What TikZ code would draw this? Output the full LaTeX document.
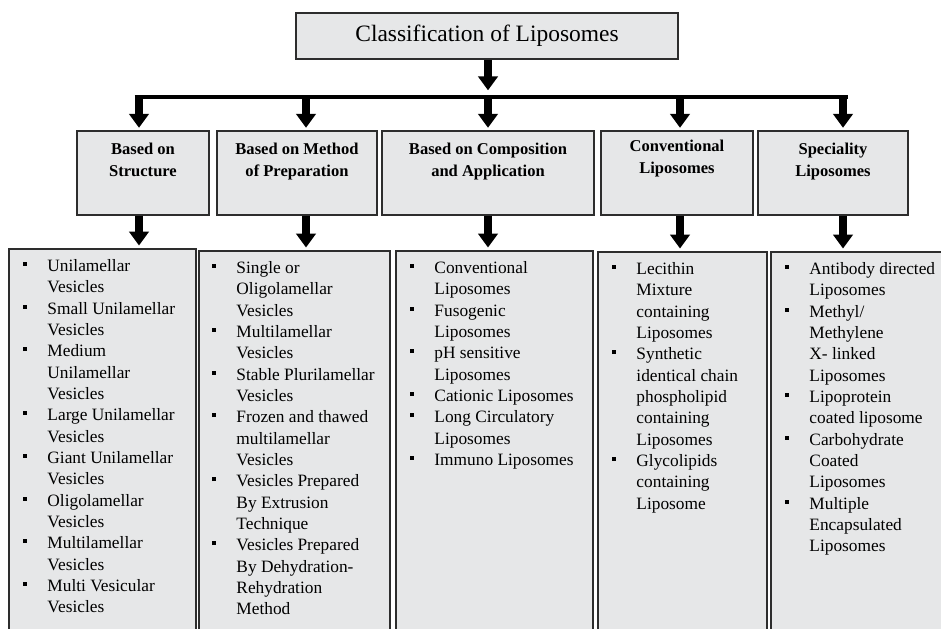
\documentclass[tikz,border=0pt]{standalone}
\usepackage{fontspec}
\setmainfont{Liberation Serif}
\usepackage{xcolor}
\usepackage{tikz}
\usetikzlibrary{arrows.meta,fit}
\definecolor{boxfill}{RGB}{230,231,232}
\definecolor{boxline}{RGB}{45,45,45}
\newcommand{\lb}{\leavevmode\llap{\raisebox{4.2pt}{\rule{3pt}{3pt}}\hspace{15pt}}}
\tikzset{
  titlebox/.style ={draw=boxline, fill=boxfill, line width=1pt, inner sep=0pt},
  catbox/.style   ={draw=boxline, fill=boxfill, line width=0.8pt, inner sep=0pt},
  listbox/.style  ={draw=boxline, fill=boxfill, line width=1.2pt, inner sep=0pt},
  titletxt/.style ={font=\fontsize{17.6}{21}\selectfont, inner sep=0pt},
  cattxt/.style   ={font=\fontsize{12.4}{16.5}\selectfont\bfseries, align=center, inner sep=0pt, anchor=north},
  listtxt/.style  ={font=\fontsize{13}{16}\selectfont, align=left, inner sep=0pt, anchor=north west},
  blk/.style      ={line width=6.5pt, -{Triangle[width=14.5pt,length=10.5pt]}},
  busline/.style  ={line width=2.6pt},
}

\begin{document}
\begin{tikzpicture}[x=0.75pt,y=-0.75pt]
  \useasboundingbox (0,0) rectangle (941,628);
  \clip (0,0) rectangle (941,628);
  \fill[white] (0,0) rectangle (941,628);

  \node[titlebox, fit={(296,13) (678,59)}] (title) {};
  \node[titletxt] (titlet) at (title.center) {Classification of Liposomes};

  \coordinate (bus1) at (139,97);
  \coordinate (bus2) at (306,97);
  \coordinate (bus3) at (488,97);
  \coordinate (bus4) at (680,97);
  \coordinate (bus5) at (843,97);

  \node[catbox, fit={(77,131) (209,215)}] (head1) {};
  \node[catbox, fit={(217,131) (377,215)}] (head2) {};
  \node[catbox, fit={(382,131) (594,215)}] (head3) {};
  \node[catbox, fit={(601,131) (753,215)}] (head4) {};
  \node[catbox, fit={(758,131) (908,215)}] (head5) {};
  \node[cattxt] (head1t) at ([yshift=-9pt]head1.north) {Based on\\Structure};
  \node[cattxt] (head2t) at ([yshift=-9pt]head2.north) {Based on Method\\of Preparation};
  \node[cattxt] (head3t) at ([yshift=-9pt]head3.north) {Based on Composition\\and Application};
  \node[cattxt] (head4t) at ([yshift=-7pt]head4.north) {Conventional\\Liposomes};
  \node[cattxt] (head5t) at ([yshift=-9pt]head5.north) {Speciality\\Liposomes};

  \node[listbox, fit={(9,249) (196,640)}] (list1) {};
  \node[listbox, fit={(199,251) (390,640)}] (list2) {};
  \node[listbox, fit={(396,251) (593,640)}] (list3) {};
  \node[listbox, fit={(598,252) (767,640)}] (list4) {};
  \node[listbox, fit={(771,252) (950,640)}] (list5) {};

  \node[listtxt] (list1t) at ([shift={(39,11)}]list1.north west) {%
    \lb Unilamellar\\Vesicles\\
    \lb Small Unilamellar\\Vesicles\\
    \lb Medium\\Unilamellar\\Vesicles\\
    \lb Large Unilamellar\\Vesicles\\
    \lb Giant Unilamellar\\Vesicles\\
    \lb Oligolamellar\\Vesicles\\
    \lb Multilamellar\\Vesicles\\
    \lb Multi Vesicular\\Vesicles};
  \node[listtxt] (list2t) at ([shift={(38,11)}]list2.north west) {%
    \lb Single or\\Oligolamellar\\Vesicles\\
    \lb Multilamellar\\Vesicles\\
    \lb Stable Plurilamellar\\Vesicles\\
    \lb Frozen and thawed\\multilamellar\\Vesicles\\
    \lb Vesicles Prepared\\By Extrusion\\Technique\\
    \lb Vesicles Prepared\\By Dehydration-\\Rehydration\\Method};
  \node[listtxt] (list3t) at ([shift={(39,11)}]list3.north west) {%
    \lb Conventional\\Liposomes\\
    \lb Fusogenic\\Liposomes\\
    \lb pH sensitive\\Liposomes\\
    \lb Cationic Liposomes\\
    \lb Long Circulatory\\Liposomes\\
    \lb Immuno Liposomes};
  \node[listtxt] (list4t) at ([shift={(39,11)}]list4.north west) {%
    \lb Lecithin\\Mixture\\containing\\Liposomes\\
    \lb Synthetic\\identical chain\\phospholipid\\containing\\Liposomes\\
    \lb Glycolipids\\containing\\Liposome};
  \node[listtxt] (list5t) at ([shift={(39,11)}]list5.north west) {%
    \lb Antibody directed\\Liposomes\\
    \lb Methyl/\\Methylene\\X- linked\\Liposomes\\
    \lb Lipoprotein\\coated liposome\\
    \lb Carbohydrate\\Coated\\Liposomes\\
    \lb Multiple\\Encapsulated\\Liposomes};

  \draw[busline] ([shift={(-4.5,0)}]bus1) -- ([shift={(4.5,0)}]bus5);
  \draw[blk, shorten >=5pt] (title.south -| bus3) -- (bus3);
  \draw[blk, shorten >=2pt] (bus1) -- (head1.north -| bus1);
  \draw[blk, shorten >=2pt] (bus2) -- (head2.north -| bus2);
  \draw[blk, shorten >=2pt] (bus3) -- (head3.north -| bus3);
  \draw[blk, shorten >=2pt] (bus4) -- (head4.north -| bus4);
  \draw[blk, shorten >=2pt] (bus5) -- (head5.north -| bus5);
  \draw[blk, shorten >=2pt] (head1.south -| bus1) -- (list1.north -| bus1);
  \draw[blk, shorten >=2pt] (head2.south -| bus2) -- (list2.north -| bus2);
  \draw[blk, shorten >=2pt] (head3.south -| bus3) -- (list3.north -| bus3);
  \draw[blk, shorten >=2pt] (head4.south -| bus4) -- (list4.north -| bus4);
  \draw[blk, shorten >=2pt] (head5.south -| bus5) -- (list5.north -| bus5);
\end{tikzpicture}
\end{document}
